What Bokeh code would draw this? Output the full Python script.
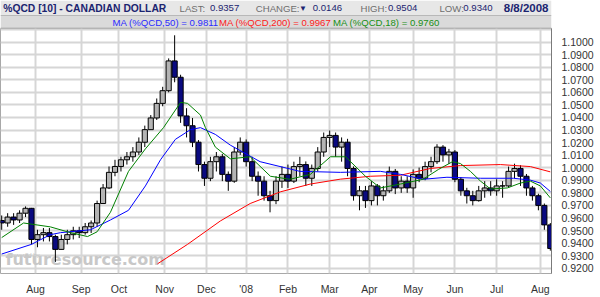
from bokeh.plotting import figure
from bokeh.models import Range1d, FixedTicker, Label, ColumnDataSource, PrintfTickFormatter
from bokeh.layouts import column
from bokeh.embed import file_html
from bokeh.resources import INLINE
from bokeh.core.properties import value

# ---------------- data (3-trading-day bars, x = trading-day index from 9 Jul 2007) ----------------
bar_idx = list(range(0, 277, 3))
first_open = 0.9580
close = [0.9560, 0.9607, 0.9584, 0.9638, 0.9677, 0.9429, 0.9467, 0.9483, 0.9452, 0.9350,
         0.9429, 0.9467, 0.9498, 0.9483, 0.9530, 0.9560, 0.9715, 0.9839, 0.9963, 1.0010,
         1.0063, 1.0087, 1.0125, 1.0203, 1.0303, 1.0396, 1.0512, 1.0613, 1.0850, 1.0720,
         1.0412, 1.0334, 1.0203, 1.0025, 0.9916, 1.0048, 1.0087, 0.9947, 0.9893, 1.0125,
         1.0203, 1.0048, 0.9932, 0.9893, 0.9777, 0.9738, 0.9893, 0.9947, 0.9893, 1.0009,
         1.0025, 0.9916, 0.9994, 1.0125, 1.0241, 1.0257, 1.0164, 1.0203, 0.9994, 0.9777,
         0.9816, 0.9738, 0.9855, 0.9777, 0.9816, 0.9971, 0.9839, 0.9893, 0.9839, 0.9947,
         0.9916, 1.0009, 1.0048, 1.0164, 1.0102, 1.0125, 0.9908, 0.9816, 0.9777, 0.9738,
         0.9816, 0.9839, 0.9816, 0.9855, 0.9855, 0.9971, 0.9994, 0.9932, 0.9839, 0.9777,
         0.9700, 0.9545, 0.9357]
high = [0.9620, 0.9638, 0.9638, 0.9661, 0.9692, 0.9680, 0.9506, 0.9520, 0.9520, 0.9467,
        0.9467, 0.9506, 0.9530, 0.9530, 0.9560, 0.9580, 0.9738, 0.9870, 1.0010, 1.0063,
        1.0087, 1.0125, 1.0164, 1.0241, 1.0335, 1.0419, 1.0551, 1.0644, 1.0870, 1.1054,
        1.0740, 1.0474, 1.0396, 1.0220, 1.0048, 1.0087, 1.0125, 1.0110, 0.9970, 1.0164,
        1.0241, 1.0225, 1.0087, 0.9970, 0.9932, 0.9816, 0.9932, 1.0009, 1.0025, 1.0048,
        1.0087, 1.0050, 1.0025, 1.0164, 1.0280, 1.0296, 1.0280, 1.0241, 1.0230, 1.0010,
        0.9855, 0.9855, 0.9893, 0.9870, 0.9855, 1.0009, 0.9990, 0.9932, 0.9932, 0.9986,
        1.0001, 1.0048, 1.0087, 1.0187, 1.0180, 1.0150, 1.0140, 0.9925, 0.9840, 0.9816,
        0.9855, 0.9893, 0.9893, 0.9908, 0.9893, 1.0009, 1.0032, 1.0020, 0.9950, 0.9855,
        0.9793, 0.9715, 0.9560]
low = [0.9506, 0.9530, 0.9545, 0.9560, 0.9607, 0.9390, 0.9367, 0.9413, 0.9413, 0.9250,
       0.9350, 0.9390, 0.9429, 0.9440, 0.9467, 0.9480, 0.9530, 0.9715, 0.9830, 0.9932,
       0.9970, 1.0025, 1.0048, 1.0102, 1.0164, 1.0303, 1.0380, 1.0489, 1.0600, 1.0680,
       1.0357, 1.0241, 1.0164, 0.9970, 0.9855, 0.9893, 0.9970, 0.9893, 0.9816, 0.9880,
       1.0102, 1.0009, 0.9893, 0.9777, 0.9738, 0.9645, 0.9710, 0.9839, 0.9839, 0.9878,
       0.9932, 0.9855, 0.9855, 0.9970, 1.0087, 1.0164, 1.0087, 1.0048, 0.9932, 0.9738,
       0.9661, 0.9680, 0.9700, 0.9700, 0.9738, 0.9800, 0.9790, 0.9800, 0.9800, 0.9761,
       0.9885, 0.9900, 0.9963, 1.0030, 1.0048, 1.0030, 0.9885, 0.9777, 0.9715, 0.9700,
       0.9730, 0.9761, 0.9777, 0.9777, 0.9761, 0.9840, 0.9916, 0.9855, 0.9777, 0.9738,
       0.9661, 0.9506, 0.9340]

ma50_idx = [0, 15, 24.5, 29.6, 44.7, 54.7, 63.8, 72.3, 79.9, 87.4, 95, 100, 107.5, 115, 130,
            150, 170.4, 190.5, 200.6, 212, 224, 240.9, 257.5, 266, 271, 276]
ma50_val = [0.9313, 0.9390, 0.9467, 0.9483, 0.9506, 0.9584, 0.9661, 0.9855, 1.0063, 1.0226,
            1.0303, 1.0319, 1.0265, 1.0180, 1.0048, 0.9971, 0.9963, 0.9971, 0.9947, 0.9908,
            0.9924, 0.9916, 0.9916, 0.9901, 0.9878, 0.9811]
ma18_idx = [0, 11, 24.5, 34.6, 43.2, 48, 54.7, 63.8, 72.3, 81.4, 90, 93.5, 100, 102.5, 107.5,
            115, 125, 135.2, 145, 155.3, 165.4, 173, 183, 190.5, 200.6, 212, 219.7, 226.8,
            230.8, 235.8, 240.9, 245.9, 254.4, 261, 266, 271, 276]
ma18_val = [0.9444, 0.9560, 0.9529, 0.9483, 0.9452, 0.9490, 0.9645, 0.9971, 1.0150, 1.0319,
            1.0520, 1.0512, 1.0419, 1.0319, 1.0164, 1.0071, 1.0087, 0.9932, 0.9908, 0.9947,
            1.0087, 1.0087, 0.9932, 0.9839, 0.9870, 0.9908, 0.9986, 1.0048, 1.0033, 0.9971,
            0.9893, 0.9831, 0.9839, 0.9878, 0.9893, 0.9855, 0.9760]
ma200_idx = [78.4, 93.5, 110, 125, 140.2, 155.3, 170.4, 185.5, 200.6, 215.7, 230.8, 250.9, 266, 276]
ma200_val = [0.9235, 0.9390, 0.9576, 0.9715, 0.9808, 0.9870, 0.9909, 0.9932, 0.9940, 0.9994,
             1.0017, 1.0025, 1.0009, 0.9967]

month_idx = [17, 40, 59, 82, 103, 123, 144, 165, 185, 207, 228, 249, 271]
month_lbl = ["Aug", "Sep", "Oct", "Nov", "Dec", "'08", "Feb", "Mar", "Apr", "May", "Jun", "Jul", "Aug"]
price_ticks = [round(0.92 + 0.01 * i, 2) for i in range(19)]
grid_ticks = price_ticks + [1.11]

last_val, change_val, day_high, day_low, last_date = 0.9357, 0.0146, 0.9504, 0.9340, "8/8/2008"

FONT_NAME = "Liberation Sans"
FONT = value(FONT_NAME)
NAVY = "#1b2470"
GRAY = "#6e6e6e"

# ---------------- header ----------------
hdr = figure(width=600, height=28, x_range=Range1d(0, 600), y_range=Range1d(28, 0),
             toolbar_location=None, output_backend="svg", min_border=0,
             x_axis_location=None, y_axis_location=None, outline_line_color=None)
hdr.grid.visible = False
hdr.quad(left=[0], right=[600], top=[0], bottom=[15], fill_color="#e7e7e7", line_color=None)
hdr.quad(left=[0], right=[600], top=[15], bottom=[28], fill_color="#dadada", line_color=None)
hdr.segment(x0=[0, 0], y0=[15, 27.5], x1=[600, 600], y1=[15, 27.5], line_color="#b8b8b8", line_width=1)


def htext(x, y, s, color, size="9.6px", style="normal"):
    hdr.text(x=[x], y=[y], text=[s], text_color=color, text_font=FONT, text_font_size=size,
             text_font_style=style, text_baseline="middle", text_align="left")


htext(3, 7.5, "%QCD [10] - CANADIAN DOLLAR", NAVY, "10.3px", "bold")
htext(195, 7.5, "LAST:", GRAY, "9.6px")
htext(228, 7.5, f"{last_val:.4f}", NAVY)
htext(278, 7.5, "CHANGE:", GRAY, "9.6px")
htext(325, 7.5, "\u25BC", NAVY, "8px")
htext(340, 7.5, f"{change_val:.4f}", NAVY)
htext(392, 7.5, "HIGH:", GRAY, "9.6px")
htext(422, 7.5, f"{day_high:.4f}", NAVY)
htext(478, 7.5, "LOW:", GRAY, "9.6px")
htext(504, 7.5, f"{day_low:.4f}", NAVY)
htext(548, 7.5, last_date, NAVY, "11.5px", "bold")
htext(122, 21.5, f"MA (%QCD,50) = {ma50_val[-1]:.4f}", "#2a2aff")
htext(238, 21.5, f"MA (%QCD,200) = {ma200_val[-1]:.4f}", "#ff2020")
htext(362, 21.5, f"MA (%QCD,18) = {ma18_val[-1]:.4f}", "#168f16")

# ---------------- main chart ----------------
p = figure(width=600, height=269, x_range=Range1d(-0.6, 276.6), y_range=Range1d(0.9158, 1.1108),
           toolbar_location=None, output_backend="svg", y_axis_location="right",
           min_border_left=0, min_border_right=49, min_border_top=0, min_border_bottom=17,
           outline_line_color="#a8a8a8", background_fill_color="white", border_fill_color="white")

p.yaxis.ticker = FixedTicker(ticks=price_ticks)
p.yaxis.formatter = PrintfTickFormatter(format="%.4f")
p.yaxis.major_tick_line_color = None
p.yaxis.minor_tick_line_color = None
p.yaxis.axis_line_color = "#7a7a7a"
p.yaxis.major_label_standoff = 4
p.yaxis.major_label_text_font = FONT_NAME
p.yaxis.major_label_text_font_size = "10.5px"
p.yaxis.major_label_text_color = "#333333"

p.xaxis.ticker = FixedTicker(ticks=month_idx)
p.xaxis.major_label_overrides = {m: l for m, l in zip(month_idx, month_lbl)}
p.xaxis.major_tick_line_color = None
p.xaxis.minor_tick_line_color = None
p.xaxis.axis_line_color = None
p.xaxis.major_label_standoff = 3
p.xaxis.major_label_text_font = FONT_NAME
p.xaxis.major_label_text_font_size = "10.5px"
p.xaxis.major_label_text_color = "#333333"

p.xgrid.ticker = FixedTicker(ticks=month_idx)
p.ygrid.ticker = FixedTicker(ticks=grid_ticks)
p.grid.grid_line_color = "#d6d6d6"
p.grid.grid_line_width = 2

# watermark
p.add_layout(Label(x=8, y=16, x_units="screen", y_units="screen", text="powered by",
                   text_font=FONT_NAME, text_font_size="6px", text_color="#c4c4c4", level="underlay"))
p.add_layout(Label(x=5, y=5, x_units="screen", y_units="screen", text="futuresource.com",
                   text_font="DejaVu Sans", text_font_size="16px", text_font_style="bold",
                   text_color="#c8c8c8", level="underlay"))

open_ = [first_open] + close[:-1]
src = ColumnDataSource(dict(
    x=bar_idx, high=high, low=low,
    top=[max(o, c) for o, c in zip(open_, close)],
    bottom=[min(o, c) for o, c in zip(open_, close)],
    fill=["#b4b4b4" if c >= o else "#0a0a80" for o, c in zip(open_, close)],
))
p.segment(x0="x", y0="low", x1="x", y1="high", source=src, line_color="black", line_width=1)
p.vbar(x="x", width=2.6, top="top", bottom="bottom", source=src, fill_color="fill",
       line_color="black", line_width=1)

p.line(ma200_idx, ma200_val, line_color="#ff0000", line_width=1)
p.line(ma50_idx, ma50_val, line_color="#0000ff", line_width=1)
p.line(ma18_idx, ma18_val, line_color="#008000", line_width=1)

# value boxes on the price axis
for v, col in [(ma200_val[-1], "#ff0000"), (ma50_val[-1], "#0000ff"),
               (ma18_val[-1], "#008000"), (last_val, "#000080")]:
    p.add_layout(Label(x=552, y=v, x_units="screen", y_units="data", text=f"{v:.4f}",
                       text_font=FONT_NAME, text_font_size="10.5px", text_color="white",
                       text_baseline="middle", background_fill_color=col,
                       padding=dict(left=3, right=24, top=0, bottom=0)))

p.add_layout(Label(x=568, y=-9.5, x_units="screen", y_units="screen", text="Daily",
                   text_font=FONT_NAME, text_font_size="10.5px", text_color="#333333",
                   text_align="center", text_baseline="middle"))

layout = column(hdr, p)
open("out.html", "w").write(file_html(layout, INLINE))
